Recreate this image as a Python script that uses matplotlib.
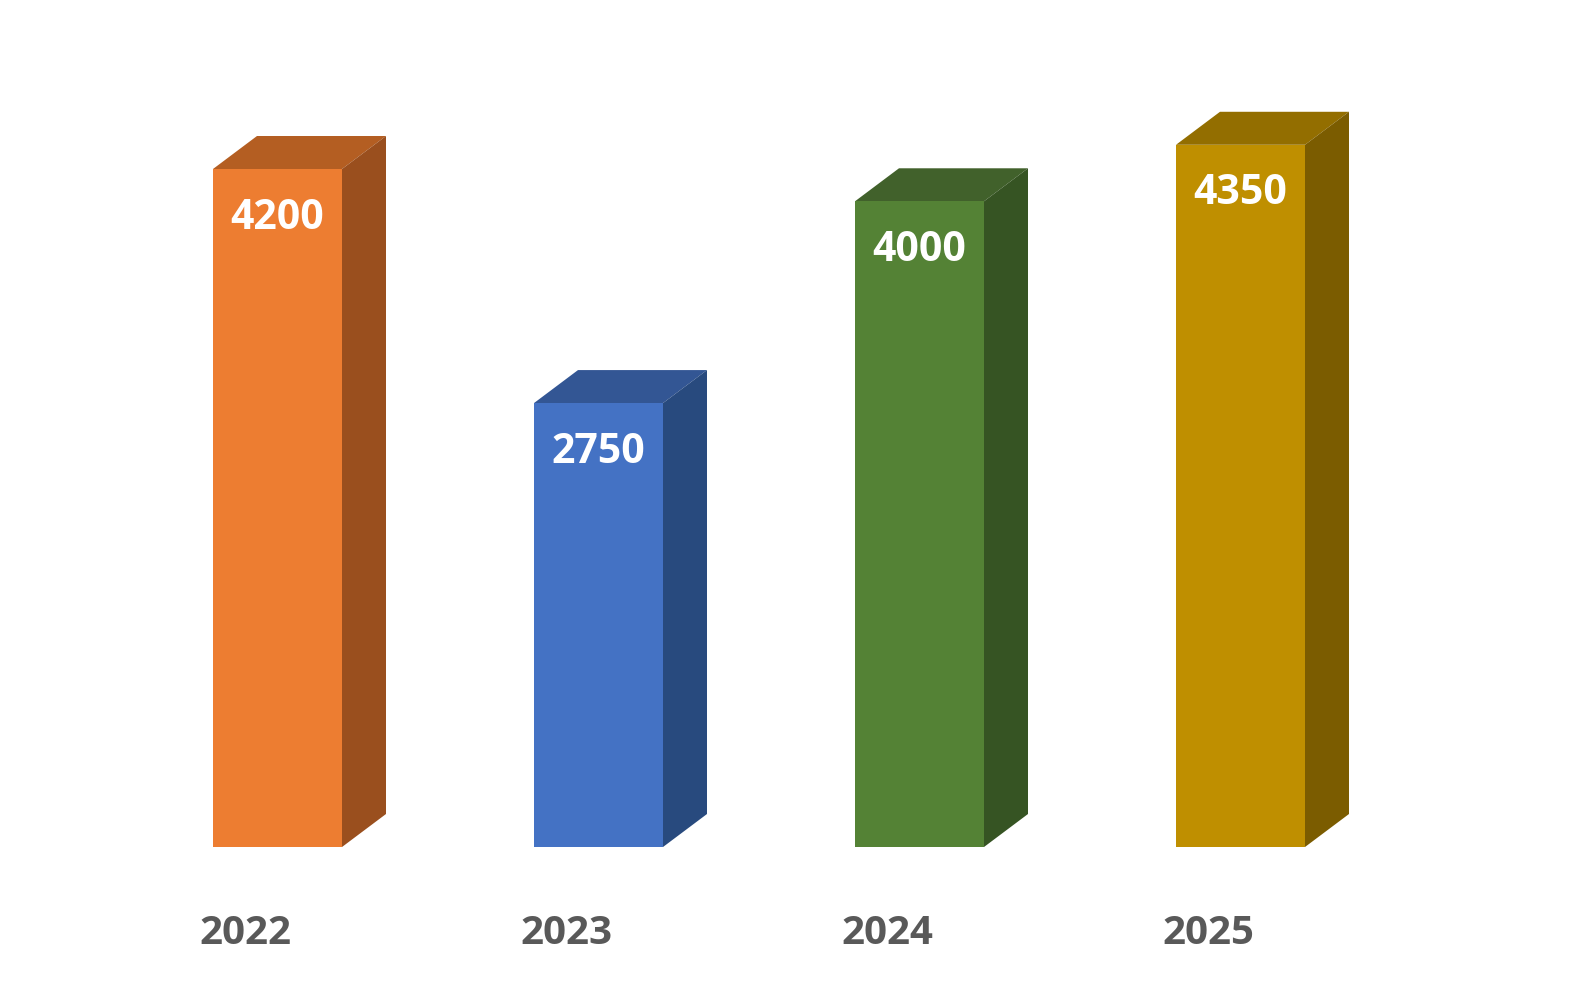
import matplotlib
matplotlib.use("Agg")
import matplotlib.pyplot as plt
from matplotlib.patches import Polygon

years = ["2022", "2023", "2024", "2025"]
values = [4200, 2750, 4000, 4350]
front_colors = ["#ED7D31", "#4472C4", "#548235", "#BF8F00"]
top_colors = ["#B45E22", "#335694", "#41612B", "#936E00"]
side_colors = ["#9A4F1E", "#284A7E", "#365423", "#7B5C00"]

W, H = 1573, 997
fig = plt.figure(figsize=(W / 100, H / 100), dpi=100)
ax = fig.add_axes([0, 0, 1, 1])

# pixel geometry mapping
x0_px, step_px = 277.5, 321.0
base_px_from_bottom = 150.0
px_per_unit = 678.0 / 4200.0
ax.set_xlim(-x0_px / step_px, (W - x0_px) / step_px)
ax.set_ylim(-base_px_from_bottom / px_per_unit, (H - base_px_from_bottom) / px_per_unit)
ax.axis("off")

bw = 129.0 / step_px
dx = 44.0 / step_px
dy = 33.0 / px_per_unit

xs = list(range(len(years)))
bars = ax.bar(xs, values, width=bw, color=front_colors, zorder=3, linewidth=0)

for i, (b, v) in enumerate(zip(bars, values)):
    l = b.get_x()
    r = l + b.get_width()
    top = Polygon([(l, v), (l + dx, v + dy), (r + dx, v + dy), (r, v)],
                  closed=True, facecolor=top_colors[i], edgecolor="none", zorder=2)
    side = Polygon([(r, 0), (r, v), (r + dx, v + dy), (r + dx, dy)],
                   closed=True, facecolor=side_colors[i], edgecolor="none", zorder=2)
    ax.add_patch(top)
    ax.add_patch(side)
    ax.annotate(str(v), xy=(i, v), xytext=(0, -49), textcoords="offset pixels",
                ha="center", va="center", color="white", fontsize=29.5,
                fontweight="bold", family="Open Sans", zorder=4)
    ax.annotate(years[i], xy=(i, 0), xytext=(-32, -86), textcoords="offset pixels",
                ha="center", va="center", color="#595959", fontsize=29,
                fontweight="bold", family="Open Sans", zorder=4)

fig.savefig("out.png", dpi=100)
